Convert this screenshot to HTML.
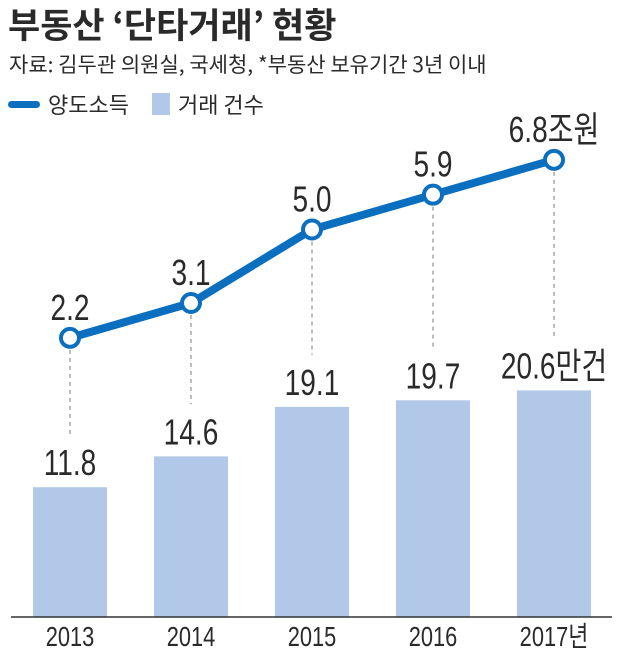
<!DOCTYPE html>
<html><head><meta charset="utf-8"><style>
body{margin:0;background:#fff;}
svg text{font-family:"Liberation Sans","Noto Sans CJK KR",sans-serif;fill:#2a2a2a;}
</style></head><body>
<svg id="c" width="620" height="650" viewBox="0 0 620 650" xmlns="http://www.w3.org/2000/svg">
<text x="8" y="38" font-size="35" font-weight="bold" style="font-family:'Noto Sans CJK KR',sans-serif" fill="#222">부동산 ‘단타거래’ 현황</text>
<text x="9" y="72" font-size="21" style="font-family:'Noto Sans CJK KR',sans-serif">자료: 김두관 의원실, 국세청, *부동산 보유기간 3년 이내</text>
<g>
<rect x="8" y="101" width="32" height="7" rx="3.5" fill="#0a6fbe"/>
<text x="48" y="113" font-size="22" style="font-family:'Noto Sans CJK KR',sans-serif">양도소득</text>
<rect x="152" y="93" width="18" height="22" fill="#b1c8e8"/>
<text x="178" y="113" font-size="22" style="font-family:'Noto Sans CJK KR',sans-serif">거래 건수</text>
</g>
<g id="bars"></g><g id="dash"></g><g id="line"></g><g id="labels"></g>
<line x1="11" y1="617" x2="612" y2="617" stroke="#333" stroke-width="1.5"/>
</svg>
<script>
const years=["2013","2014","2015","2016","2017"];
const counts=[11.8,14.6,19.1,19.7,20.6];
const income=[2.2,3.1,5.0,5.9,6.8];
const countLabels=["11.8","14.6","19.1","19.7","20.6만건"];
const incomeLabels=["2.2","3.1","5.0","5.9","6.8조원"];
const yearLabels=["2013","2014","2015","2016","2017년"];
const NS="http://www.w3.org/2000/svg";
const xC=i=>70+i*121;
const yBar=v=>617-v*11.0;
const yLine=v=>423-v*38.7;
function mk(t,a,p){const e=document.createElementNS(NS,t);for(const k in a)e.setAttribute(k,a[k]);p.appendChild(e);return e;}
function txt(x,y,size,s,p){const t=mk('text',{x:0,y:0,'font-size':size,'text-anchor':'middle',transform:'translate('+x+','+y+') scale(0.78,1)'},p);t.textContent=s;return t;}
const gb=document.getElementById('bars'),gd=document.getElementById('dash'),gl=document.getElementById('line'),gt=document.getElementById('labels');
years.forEach((y,i)=>{
 const r=mk('rect',{x:xC(i)-37,y:yBar(counts[i]),width:74,height:617-yBar(counts[i]),fill:'#b1c8e8'},gb);
 
 
 const d=mk('line',{x1:xC(i),x2:xC(i),y1:yLine(income[i])+12,y2:yBar(counts[i])-52,stroke:'#999','stroke-width':1.3,'stroke-dasharray':'4 4'},gd);
 
 
 const t=txt(xC(i),yBar(counts[i])-12,36,countLabels[i],gt);
 
 
 const t2=txt(xC(i),yLine(income[i])-18,36,incomeLabels[i],gt);
 
 
 const t3=txt(xC(i),646,28,yearLabels[i],gt);
 
 
});
const pl=mk('polyline',{points:income.map((v,i)=>xC(i)+','+yLine(v)).join(' '),fill:'none',stroke:'#0a6fbe','stroke-width':8,'stroke-linejoin':'round'},gl);


income.forEach((v,i)=>{
 const c=mk('circle',{cx:xC(i),cy:yLine(v),r:9,fill:'#fff',stroke:'#0a6fbe','stroke-width':4},gl);
 
 
});
</script>
</body></html>
